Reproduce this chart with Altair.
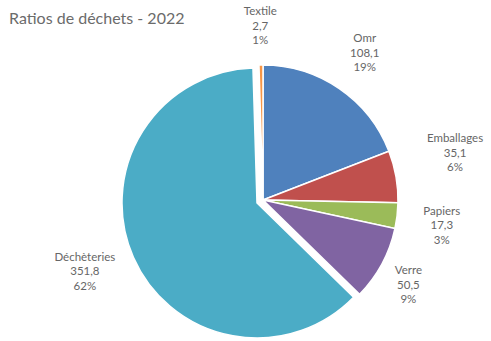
import altair as alt
import pandas as pd

title_text = "Ratios de déchets - 2022"
categories = ["Omr", "Emballages", "Papiers", "Verre", "Déchèteries", "Textile"]
values = [108.1, 35.1, 17.3, 50.5, 351.8, 2.7]
percents = [19, 6, 3, 9, 62, 1]
colors = ["#4F81BD", "#C0504D", "#9BBB59", "#8064A2", "#4BACC6", "#F79646"]

df = pd.DataFrame({
    "cat": categories,
    "value": values,
    "idx": list(range(len(categories))),
    "label": [f"{c}\n{str(v).replace('.', ',')}\n{p}%" for c, v, p in zip(categories, values, percents)],
})

CX, CY = 263, 170      # pie centre
EX, EY = 257, 173      # centre of the exploded slice
R = 135
FONT = "Lato"

theta = alt.Theta("value:Q", stack=True)
order = alt.Order("idx:Q")
color = alt.Color("cat:N", scale=alt.Scale(domain=categories, range=colors), legend=None)
is_dech = alt.datum.cat == "Déchèteries"

base = alt.Chart(df)

arcs_main = base.mark_arc(radius=R, stroke="white", strokeWidth=1.5).encode(
    theta=theta, order=order, color=color,
    x=alt.value(CX), y=alt.value(CY),
    opacity=alt.condition(is_dech, alt.value(0), alt.value(1)),
)
arcs_exp = base.mark_arc(radius=R, stroke="white", strokeWidth=1.5).encode(
    theta=theta, order=order, color=color,
    x=alt.value(EX), y=alt.value(EY),
    opacity=alt.condition(is_dech, alt.value(1), alt.value(0)),
)

# label placement groups: (category, label radius, vertical nudge, centre)
label_groups = [
    ("Omr", 180, -12, (CX, CY)),
    ("Emballages", 195, -27, (CX, CY)),
    ("Papiers", 180, -9, (CX, CY)),
    ("Verre", 165, -7, (CX, CY)),
    ("Déchèteries", 188, -21, (EX, EY)),
    ("Textile", 180, -8, (CX, CY)),
]

layers = [arcs_main, arcs_exp]
for cat, lr, ddy, (cx, cy) in label_groups:
    layers.append(
        base.mark_text(radius=lr, lineBreak="\n", fontSize=11.5, lineHeight=14.5,
                       color="#666666", font=FONT, dy=ddy).encode(
            theta=theta, order=order, text="label:N",
            x=alt.value(cx), y=alt.value(cy),
            opacity=alt.condition(alt.datum.cat == cat, alt.value(1), alt.value(0)),
        )
    )

title_layer = alt.Chart(pd.DataFrame({"t": [title_text]})).mark_text(
    align="left", baseline="alphabetic", fontSize=16, font=FONT, color="#6b6b6b"
).encode(text="t:N", x=alt.value(9), y=alt.value(-6))
layers.append(title_layer)

chart = alt.layer(*layers).properties(
    width=491, height=311,
    autosize=alt.AutoSizeParams(type="none"),
    padding={"left": 0, "top": 30, "right": 0, "bottom": 0},
).configure_view(stroke=None)

chart.save("out.html", embed_options={"renderer": "svg", "actions": False})
